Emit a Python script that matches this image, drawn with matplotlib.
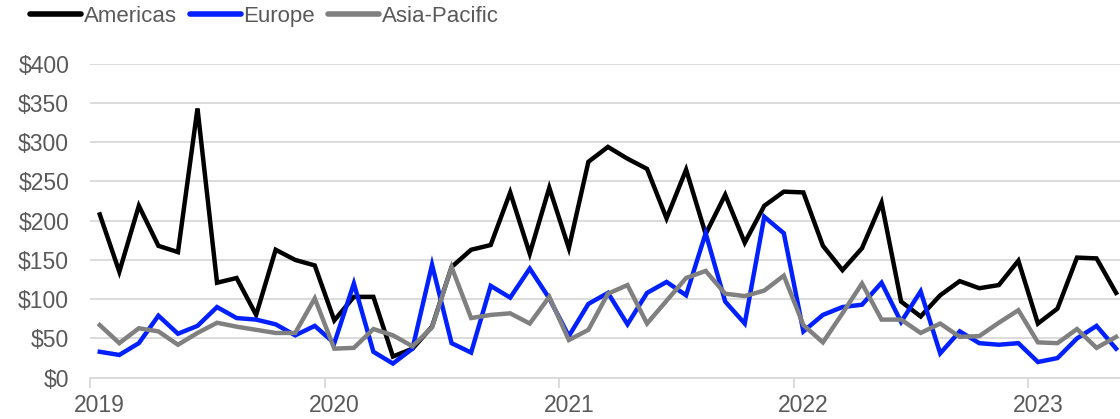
import matplotlib
matplotlib.use("Agg")
import matplotlib.pyplot as plt
import numpy as np

plt.rcParams['font.family'] = ['Liberation Sans', 'DejaVu Sans']

# monthly values, Jan 2019 .. May 2023
americas = [208, 135, 219, 168, 160, 343, 121, 127, 80, 163, 150, 143,
            73, 103, 103, 27, 37, 65, 141, 163, 169, 236, 158, 242,
            165, 275, 294, 279, 266, 203, 265, 183, 233, 172, 219, 237,
            236, 168, 137, 165, 223, 97, 78, 105, 123, 114, 118, 149,
            69, 88, 153, 152, 108]
europe = [33, 29, 44, 79, 56, 66, 90, 76, 74, 68, 54, 66,
          44, 120, 33, 18, 37, 144, 44, 32, 117, 102, 139, 101,
          53, 94, 108, 68, 108, 122, 105, 184, 97, 69, 205, 184,
          59, 80, 90, 93, 121, 71, 110, 31, 59, 44, 42, 44,
          20, 25, 50, 66, 37]
asia_pacific = [67, 44, 63, 59, 42, 57, 70, 65, 61, 57, 57, 101,
                37, 38, 62, 54, 40, 64, 141, 76, 80, 82, 69, 103,
                48, 61, 107, 118, 69, 98, 127, 136, 107, 104, 111, 130,
                67, 45, 82, 120, 74, 74, 57, 69, 52, 53, 70, 86,
                45, 44, 62, 38, 52]
years = ['2019', '2020', '2021', '2022', '2023']
y_ticks = [0, 50, 100, 150, 200, 250, 300, 350, 400]

text_gray = '#595959'
grid_gray = '#d9d9d9'

fig = plt.figure(figsize=(11.2, 4.19), dpi=100)
ax = fig.add_axes([90 / 1120, 1 - 377.7 / 419, 1 - 90 / 1120, 314 / 419])

x = np.arange(len(americas))
ax.plot(x, americas, color='black', lw=3.2, label='Americas', solid_joinstyle='miter')
ax.plot(x, europe, color='#0020ff', lw=3.2, label='Europe', solid_joinstyle='miter')
ax.plot(x, asia_pacific, color='#808080', lw=3.2, label='Asia-Pacific', solid_joinstyle='miter')

ax.set_xlim(-0.5, 52.2)
ax.set_ylim(0, 400)
ax.set_yticks(y_ticks)
ax.set_yticklabels([f'${v}' for v in y_ticks])
ax.yaxis.grid(True, color=grid_gray, lw=1.3)
ax.set_axisbelow(True)

ax.set_xticks(np.arange(len(years)) * 12)
ax.set_xticklabels(years)
ax.set_xticks(np.arange(len(years)) * 12 - 0.5, minor=True)
ax.tick_params(axis='x', which='major', length=0, pad=12, labelsize=16.5, labelcolor=text_gray)
ax.tick_params(axis='x', which='minor', length=7, width=1.3, color=grid_gray)
ax.tick_params(axis='y', length=0, pad=15, labelsize=16.5, labelcolor=text_gray)

for s in ['top', 'right', 'left']:
    ax.spines[s].set_visible(False)
ax.spines['bottom'].set_color(grid_gray)
ax.spines['bottom'].set_linewidth(1.3)

leg = fig.legend(loc='upper left', bbox_to_anchor=(0.025, 1 - 4 / 419), ncol=3, frameon=False,
                 fontsize=16, handlelength=2.3, handletextpad=0.1, columnspacing=0.6,
                 borderpad=0.1, borderaxespad=0)
for t in leg.get_texts():
    t.set_color(text_gray)
for h in leg.legend_handles:
    h.set_linewidth(4)
    h.set_solid_capstyle('round')

fig.savefig('out.png', dpi=100)
